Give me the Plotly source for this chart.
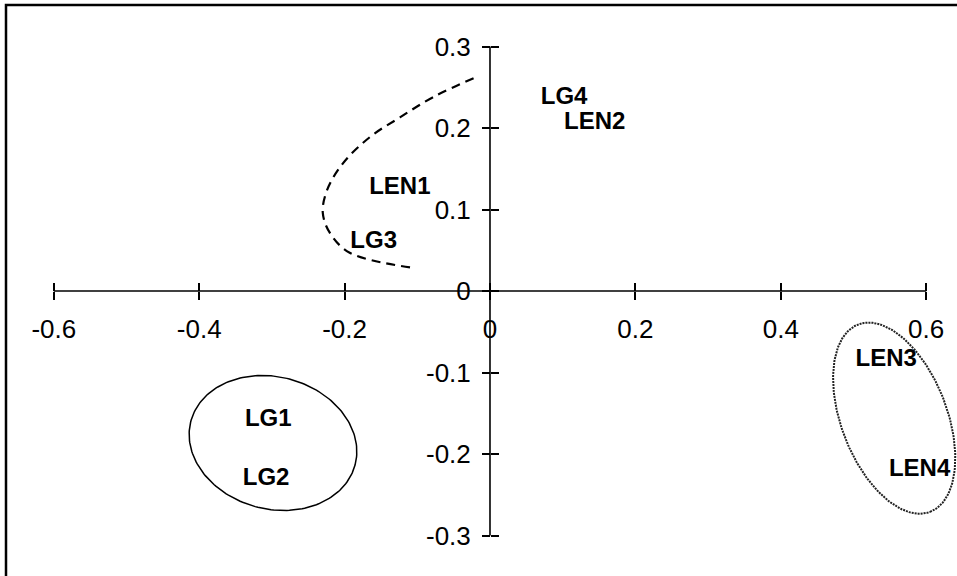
import numpy as np
import plotly.graph_objects as go

# ---- data ----
labels = ["LG4", "LEN2", "LEN1", "LG3", "LEN3", "LEN4", "LG1", "LG2"]
label_x = [0.102, 0.144, -0.124, -0.160, 0.545, 0.591, -0.305, -0.308]
label_y = [0.237, 0.206, 0.126, 0.060, -0.085, -0.220, -0.158, -0.231]

x_ticks = [-0.6, -0.4, -0.2, 0, 0.2, 0.4, 0.6]
x_tick_text = ["-0.6", "-0.4", "-0.2", "0", "0.2", "0.4", "0.6"]
y_ticks = [-0.3, -0.2, -0.1, 0, 0.1, 0.2, 0.3]
y_tick_text = ["-0.3", "-0.2", "-0.1", "0", "0.1", "0.2", "0.3"]

# dashed curve around LEN1 / LG3
curve_x = [-0.110, -0.193, -0.220, -0.230, -0.224, -0.202, -0.165, -0.124, -0.078, -0.018]
curve_y = [0.029, 0.047, 0.071, 0.096, 0.124, 0.157, 0.189, 0.213, 0.238, 0.263]

# ellipses: centre and two conjugate semi-axis vectors (data units)
solid_center = [-0.2985, -0.1865]
solid_u = [0.1129, -0.0270]
solid_v = [-0.0235, -0.0783]

dotted_center = [0.556, -0.156]
dotted_u = [0.0494, -0.115]
dotted_v = [0.0680, 0.0230]

x_range = [-0.6740, 0.6424]
y_range = [-0.3497, 0.3571]

FONT = "Liberation Sans, Arial, sans-serif"


def ellipse(c, u, v, n=200):
    t = np.linspace(0, 2 * np.pi, n)
    return (c[0] + u[0] * np.cos(t) + v[0] * np.sin(t),
            c[1] + u[1] * np.cos(t) + v[1] * np.sin(t))


fig = go.Figure()

# axis lines (on overlay axes)
fig.add_trace(go.Scatter(x=[x_ticks[0], x_ticks[-1]], y=[0, 0], mode="lines",
                         line=dict(color="black", width=1.6), xaxis="x2", yaxis="y2",
                         hoverinfo="skip", showlegend=False))
fig.add_trace(go.Scatter(x=[0, 0], y=[y_ticks[0], y_ticks[-1]], mode="lines",
                         line=dict(color="black", width=1.6), xaxis="x2", yaxis="y2",
                         hoverinfo="skip", showlegend=False))

ex, ey = ellipse(solid_center, solid_u, solid_v)
fig.add_trace(go.Scatter(x=ex, y=ey, mode="lines", line=dict(color="black", width=1.5),
                         hoverinfo="skip", showlegend=False))
ex, ey = ellipse(dotted_center, dotted_u, dotted_v)
fig.add_trace(go.Scatter(x=ex, y=ey, mode="lines",
                         line=dict(color="#222", width=2, dash="2px,1px"),
                         hoverinfo="skip", showlegend=False))

fig.add_trace(go.Scatter(x=curve_x, y=curve_y, mode="lines",
                         line=dict(color="black", width=2.2, dash="9px,6px", shape="spline"),
                         hoverinfo="skip", showlegend=False))

fig.add_trace(go.Scatter(x=label_x, y=label_y, mode="text",
                         text=["<b>%s</b>" % s for s in labels],
                         textposition="middle center",
                         textfont=dict(family=FONT, size=24, color="black"),
                         hoverinfo="skip", showlegend=False))

ypos = (0 - y_range[0]) / (y_range[1] - y_range[0])
xpos = (0 - x_range[0]) / (x_range[1] - x_range[0])

fig.update_layout(
    width=957, height=576,
    margin=dict(l=0, r=0, t=0, b=0),
    paper_bgcolor="white", plot_bgcolor="white",
    showlegend=False,
    xaxis=dict(range=x_range, anchor="free", position=ypos, showgrid=False, zeroline=False,
               showline=False, tickmode="array", tickvals=x_ticks, ticktext=x_tick_text,
               ticks="outside", ticklen=8, tickwidth=1.5, tickcolor="black",
               tickfont=dict(family=FONT, size=26, color="black"), ticklabelstandoff=7,
               fixedrange=True),
    yaxis=dict(range=y_range, anchor="free", position=xpos, showgrid=False, zeroline=False,
               showline=False, tickmode="array", tickvals=y_ticks, ticktext=y_tick_text,
               ticks="outside", ticklen=8, tickwidth=1.5, tickcolor="black",
               tickfont=dict(family=FONT, size=26, color="black"), ticklabelstandoff=6,
               fixedrange=True),
    xaxis2=dict(matches="x", overlaying="x", anchor="free", position=ypos, showgrid=False,
                zeroline=False, showline=False, tickmode="array", tickvals=x_ticks,
                showticklabels=False, ticks="inside", ticklen=8, tickwidth=1.5,
                tickcolor="black", fixedrange=True),
    yaxis2=dict(matches="y", overlaying="y", anchor="free", position=xpos, showgrid=False,
                zeroline=False, showline=False, tickmode="array", tickvals=y_ticks,
                showticklabels=False, ticks="inside", ticklen=8, tickwidth=1.5,
                tickcolor="black", fixedrange=True),
    shapes=[dict(type="rect", xref="paper", yref="paper",
                 x0=6 / 957, x1=1.05, y0=-0.05, y1=1 - 5 / 576,
                 line=dict(color="black", width=2.5), layer="above")],
)

fig.write_html("out.html", config={"displayModeBar": False},
               post_script="document.body.style.margin='0';document.body.style.overflow='hidden';")
